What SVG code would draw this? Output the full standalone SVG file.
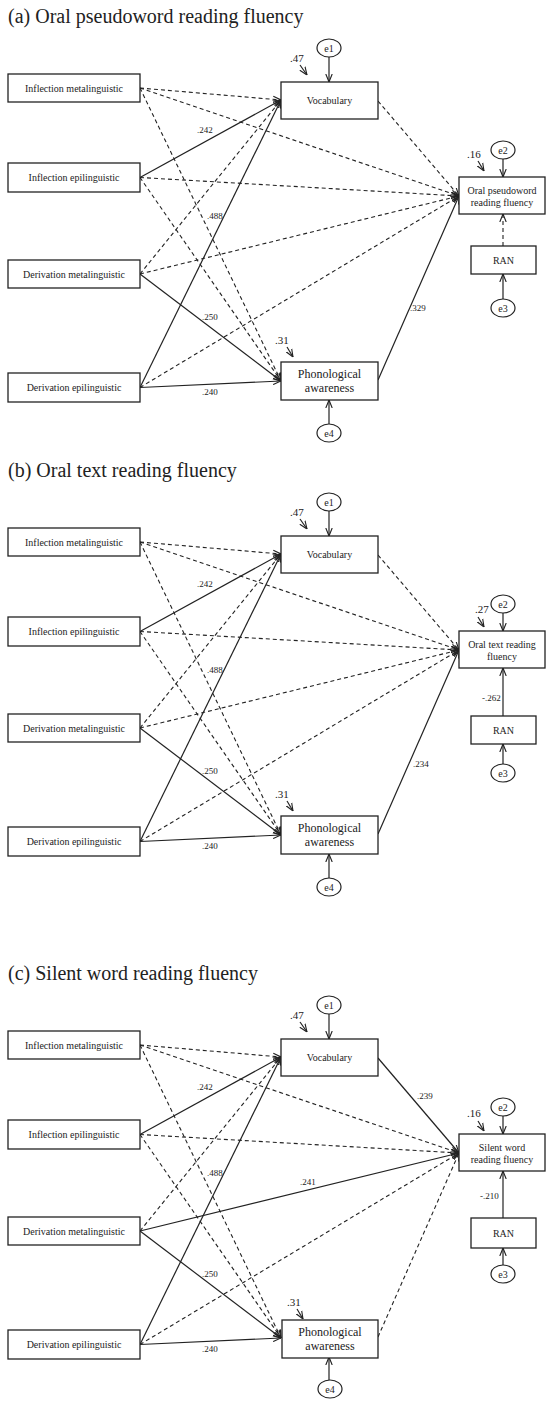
<svg xmlns="http://www.w3.org/2000/svg" width="546" height="1401" viewBox="0 0 546 1401">
<style>
text{font-family:"Liberation Serif","Times New Roman",serif;fill:#222}
.title{font-size:20px}
.lbl{font-size:10px;text-anchor:middle}
.pa{font-size:12px;text-anchor:middle}
.coef{font-size:9px}
.r2{font-size:11px}
.box{fill:#fff;stroke:#222;stroke-width:1.3}
.err{fill:#fff;stroke:#222;stroke-width:1.2}
.s{fill:none;stroke:#222;stroke-width:1.2;marker-end:url(#arr)}
.d{fill:none;stroke:#222;stroke-width:1.1;stroke-dasharray:4 3;marker-end:url(#arr)}
</style>
<defs>
<marker id="arr" viewBox="0 0 10 10" refX="10" refY="5" markerWidth="8" markerHeight="8" orient="auto" markerUnits="userSpaceOnUse">
<path d="M0,1 L10,5 L0,9" fill="none" stroke="#222" stroke-width="1.4" stroke-dasharray="none"/>
</marker>
</defs>
<rect width="546" height="1401" fill="#fff"/>

<!-- ================= PANEL A ================= -->
<text class="title" x="8" y="23">(a) Oral pseudoword reading fluency</text>
<g id="a-connectors">
<line class="d" x1="140" y1="88" x2="281" y2="100"/>
<line class="d" x1="140" y1="88" x2="281" y2="381"/>
<line class="d" x1="140" y1="88" x2="459" y2="196"/>
<line class="s" x1="140" y1="177.5" x2="281" y2="100"/>
<line class="d" x1="140" y1="177.5" x2="281" y2="381"/>
<line class="d" x1="140" y1="177.5" x2="459" y2="196"/>
<line class="d" x1="140" y1="274" x2="281" y2="100"/>
<line class="s" x1="140" y1="274" x2="281" y2="381"/>
<line class="d" x1="140" y1="274" x2="459" y2="196"/>
<line class="s" x1="140" y1="387.5" x2="281" y2="100"/>
<line class="s" x1="140" y1="387.5" x2="281" y2="381"/>
<line class="d" x1="140" y1="387.5" x2="459" y2="196"/>
<line class="d" x1="378" y1="101" x2="459" y2="196"/>
<line class="s" x1="378" y1="380" x2="459" y2="196"/>
<line class="d" x1="503" y1="246" x2="503" y2="214"/>
<line class="s" x1="329" y1="57" x2="329" y2="82"/>
<line class="s" x1="329" y1="424" x2="329" y2="400"/>
<line class="s" x1="503" y1="159" x2="503" y2="177"/>
<line class="s" x1="503" y1="299" x2="503" y2="274"/>
<line class="s" x1="300" y1="65" x2="307" y2="75"/>
<line class="s" x1="478" y1="161" x2="484" y2="171"/>
<line class="s" x1="287" y1="347" x2="293" y2="357"/>
<text class="coef" x="197" y="133">.242</text>
<text class="coef" x="207" y="219">.488</text>
<text class="coef" x="202" y="320">.250</text>
<text class="coef" x="202" y="395">.240</text>
<text class="coef" x="410" y="311">.329</text>
<text class="r2" x="290" y="62">.47</text>
<text class="r2" x="467" y="158">.16</text>
<text class="r2" x="275" y="344">.31</text>
</g>
<g id="a-im"><rect class="box" x="8" y="74" width="132" height="28"/><text class="lbl" x="74" y="91.5">Inflection metalinguistic</text></g>
<g id="a-ie"><rect class="box" x="8" y="163" width="132" height="29"/><text class="lbl" x="74" y="181">Inflection epilinguistic</text></g>
<g id="a-dm"><rect class="box" x="8" y="260" width="132" height="28"/><text class="lbl" x="74" y="277.5">Derivation metalinguistic</text></g>
<g id="a-de"><rect class="box" x="8" y="373" width="132" height="29"/><text class="lbl" x="74" y="391">Derivation epilinguistic</text></g>
<g id="a-voc"><rect class="box" x="281" y="82" width="97" height="37"/><text class="lbl" x="329.5" y="104">Vocabulary</text></g>
<g id="a-pa"><rect class="box" x="281" y="362" width="97" height="38"/><text class="pa" x="329.5" y="378">Phonological</text><text class="pa" x="329.5" y="392">awareness</text></g>
<g id="a-out"><rect class="box" x="459" y="177" width="86" height="37"/><text class="lbl" x="502" y="194">Oral pseudoword</text><text class="lbl" x="502" y="206">reading fluency</text></g>
<g id="a-ran"><rect class="box" x="471" y="246" width="65" height="28"/><text class="lbl" x="503.5" y="263.5">RAN</text></g>
<g id="a-e1"><ellipse class="err" cx="329" cy="48" rx="12" ry="9"/><text class="lbl" x="329" y="51.5">e1</text></g>
<g id="a-e2"><ellipse class="err" cx="503" cy="150" rx="12" ry="9"/><text class="lbl" x="503" y="153.5">e2</text></g>
<g id="a-e3"><ellipse class="err" cx="503" cy="308" rx="12" ry="9"/><text class="lbl" x="503" y="311.5">e3</text></g>
<g id="a-e4"><ellipse class="err" cx="329" cy="433" rx="12" ry="9"/><text class="lbl" x="329" y="436.5">e4</text></g>

<!-- ================= PANEL B ================= -->
<text class="title" x="8" y="477">(b) Oral text reading fluency</text>
<g id="b-connectors">
<line class="d" x1="140" y1="542" x2="281" y2="554"/>
<line class="d" x1="140" y1="542" x2="281" y2="835"/>
<line class="d" x1="140" y1="542" x2="459" y2="650"/>
<line class="s" x1="140" y1="631.5" x2="281" y2="554"/>
<line class="d" x1="140" y1="631.5" x2="281" y2="835"/>
<line class="d" x1="140" y1="631.5" x2="459" y2="650"/>
<line class="d" x1="140" y1="728" x2="281" y2="554"/>
<line class="s" x1="140" y1="728" x2="281" y2="835"/>
<line class="d" x1="140" y1="728" x2="459" y2="650"/>
<line class="s" x1="140" y1="841.5" x2="281" y2="554"/>
<line class="s" x1="140" y1="841.5" x2="281" y2="835"/>
<line class="d" x1="140" y1="841.5" x2="459" y2="650"/>
<line class="d" x1="378" y1="555" x2="459" y2="650"/>
<line class="s" x1="378" y1="834" x2="459" y2="650"/>
<line class="s" x1="503" y1="716" x2="503" y2="668"/>
<line class="s" x1="329" y1="511" x2="329" y2="536"/>
<line class="s" x1="329" y1="878" x2="329" y2="854"/>
<line class="s" x1="503" y1="613" x2="503" y2="631"/>
<line class="s" x1="503" y1="764" x2="503" y2="744"/>
<line class="s" x1="300" y1="519" x2="307" y2="529"/>
<line class="s" x1="478" y1="617" x2="484" y2="627"/>
<line class="s" x1="287" y1="801" x2="293" y2="811"/>
<text class="coef" x="197" y="587">.242</text>
<text class="coef" x="207" y="673">.488</text>
<text class="coef" x="202" y="774">.250</text>
<text class="coef" x="202" y="849">.240</text>
<text class="coef" x="413" y="767">.234</text>
<text class="coef" x="482" y="701">-.262</text>
<text class="r2" x="290" y="516">.47</text>
<text class="r2" x="475" y="613">.27</text>
<text class="r2" x="275" y="798">.31</text>
</g>
<g id="b-im"><rect class="box" x="8" y="528" width="132" height="28"/><text class="lbl" x="74" y="545.5">Inflection metalinguistic</text></g>
<g id="b-ie"><rect class="box" x="8" y="617" width="132" height="29"/><text class="lbl" x="74" y="635">Inflection epilinguistic</text></g>
<g id="b-dm"><rect class="box" x="8" y="714" width="132" height="28"/><text class="lbl" x="74" y="731.5">Derivation metalinguistic</text></g>
<g id="b-de"><rect class="box" x="8" y="827" width="132" height="29"/><text class="lbl" x="74" y="845">Derivation epilinguistic</text></g>
<g id="b-voc"><rect class="box" x="281" y="536" width="97" height="37"/><text class="lbl" x="329.5" y="558">Vocabulary</text></g>
<g id="b-pa"><rect class="box" x="281" y="816" width="97" height="38"/><text class="pa" x="329.5" y="832">Phonological</text><text class="pa" x="329.5" y="846">awareness</text></g>
<g id="b-out"><rect class="box" x="459" y="631" width="86" height="37"/><text class="lbl" x="502" y="648">Oral text reading</text><text class="lbl" x="502" y="660">fluency</text></g>
<g id="b-ran"><rect class="box" x="471" y="716" width="65" height="28"/><text class="lbl" x="503.5" y="733.5">RAN</text></g>
<g id="b-e1"><ellipse class="err" cx="329" cy="502" rx="12" ry="9"/><text class="lbl" x="329" y="505.5">e1</text></g>
<g id="b-e2"><ellipse class="err" cx="503" cy="604" rx="12" ry="9"/><text class="lbl" x="503" y="607.5">e2</text></g>
<g id="b-e3"><ellipse class="err" cx="503" cy="773" rx="12" ry="9"/><text class="lbl" x="503" y="776.5">e3</text></g>
<g id="b-e4"><ellipse class="err" cx="329" cy="887" rx="12" ry="9"/><text class="lbl" x="329" y="890.5">e4</text></g>

<!-- ================= PANEL C ================= -->
<text class="title" x="8" y="980">(c) Silent word reading fluency</text>
<g id="c-connectors">
<line class="d" x1="140" y1="1045" x2="281" y2="1057"/>
<line class="d" x1="140" y1="1045" x2="281" y2="1338"/>
<line class="d" x1="140" y1="1045" x2="459" y2="1153"/>
<line class="s" x1="140" y1="1134.5" x2="281" y2="1057"/>
<line class="d" x1="140" y1="1134.5" x2="281" y2="1338"/>
<line class="d" x1="140" y1="1134.5" x2="459" y2="1153"/>
<line class="d" x1="140" y1="1231" x2="281" y2="1057"/>
<line class="s" x1="140" y1="1231" x2="281" y2="1338"/>
<line class="s" x1="140" y1="1231" x2="459" y2="1153"/>
<line class="s" x1="140" y1="1344.5" x2="281" y2="1057"/>
<line class="s" x1="140" y1="1344.5" x2="281" y2="1338"/>
<line class="d" x1="140" y1="1344.5" x2="459" y2="1153"/>
<line class="s" x1="378" y1="1058" x2="459" y2="1153"/>
<line class="d" x1="378" y1="1337" x2="459" y2="1153"/>
<line class="s" x1="503" y1="1218" x2="503" y2="1171"/>
<line class="s" x1="329" y1="1014" x2="329" y2="1039"/>
<line class="s" x1="329" y1="1380" x2="329" y2="1357"/>
<line class="s" x1="503" y1="1116" x2="503" y2="1134"/>
<line class="s" x1="503" y1="1265" x2="503" y2="1248"/>
<line class="s" x1="300" y1="1022" x2="307" y2="1032"/>
<line class="s" x1="478" y1="1121" x2="484" y2="1131"/>
<line class="s" x1="297" y1="1309" x2="303" y2="1319"/>
<text class="coef" x="197" y="1090">.242</text>
<text class="coef" x="207" y="1176">.488</text>
<text class="coef" x="202" y="1277">.250</text>
<text class="coef" x="202" y="1352">.240</text>
<text class="coef" x="417" y="1099">.239</text>
<text class="coef" x="300" y="1185">.241</text>
<text class="coef" x="480" y="1199">-.210</text>
<text class="r2" x="290" y="1019">.47</text>
<text class="r2" x="467" y="1117">.16</text>
<text class="r2" x="287" y="1306">.31</text>
</g>
<g id="c-im"><rect class="box" x="8" y="1031" width="132" height="28"/><text class="lbl" x="74" y="1048.5">Inflection metalinguistic</text></g>
<g id="c-ie"><rect class="box" x="8" y="1120" width="132" height="29"/><text class="lbl" x="74" y="1138">Inflection epilinguistic</text></g>
<g id="c-dm"><rect class="box" x="8" y="1217" width="132" height="28"/><text class="lbl" x="74" y="1234.5">Derivation metalinguistic</text></g>
<g id="c-de"><rect class="box" x="8" y="1330" width="132" height="29"/><text class="lbl" x="74" y="1348">Derivation epilinguistic</text></g>
<g id="c-voc"><rect class="box" x="281" y="1039" width="97" height="37"/><text class="lbl" x="329.5" y="1061">Vocabulary</text></g>
<g id="c-pa"><rect class="box" x="282" y="1320" width="96" height="38"/><text class="pa" x="330" y="1336">Phonological</text><text class="pa" x="330" y="1350">awareness</text></g>
<g id="c-out"><rect class="box" x="459" y="1134" width="86" height="37"/><text class="lbl" x="502" y="1151">Silent word</text><text class="lbl" x="502" y="1163">reading fluency</text></g>
<g id="c-ran"><rect class="box" x="471" y="1218" width="65" height="30"/><text class="lbl" x="503.5" y="1236.5">RAN</text></g>
<g id="c-e1"><ellipse class="err" cx="329" cy="1005" rx="12" ry="9"/><text class="lbl" x="329" y="1008.5">e1</text></g>
<g id="c-e2"><ellipse class="err" cx="503" cy="1107" rx="12" ry="9"/><text class="lbl" x="503" y="1110.5">e2</text></g>
<g id="c-e3"><ellipse class="err" cx="503" cy="1274" rx="12" ry="9"/><text class="lbl" x="503" y="1277.5">e3</text></g>
<g id="c-e4"><ellipse class="err" cx="330" cy="1389" rx="12" ry="9"/><text class="lbl" x="330" y="1392.5">e4</text></g>
</svg>
